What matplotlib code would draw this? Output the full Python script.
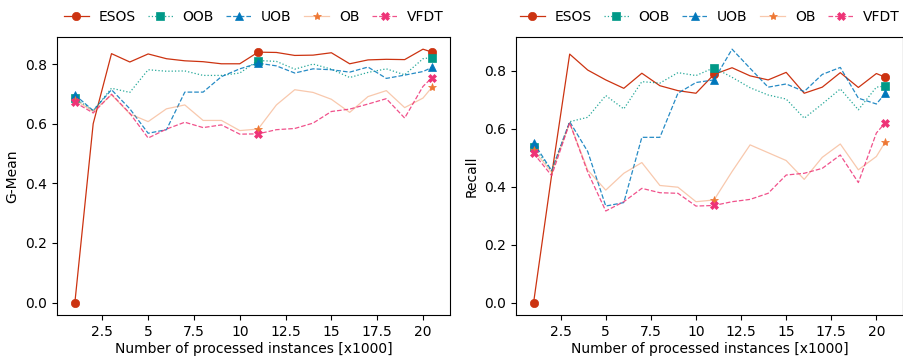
import matplotlib
matplotlib.use("Agg")
import matplotlib.pyplot as plt
from matplotlib.ticker import FormatStrFormatter

# processed instances, in thousands
instances = [1, 2, 3, 4, 5, 6, 7, 8, 9, 10, 11, 12, 13, 14, 15, 16, 17, 18, 19, 20, 20.5]

methods = ["ESOS", "OOB", "UOB", "OB", "VFDT"]

gmean_esos = [0.0, 0.60, 0.835, 0.807, 0.834, 0.818, 0.811, 0.808, 0.801, 0.801, 0.840,
              0.839, 0.829, 0.830, 0.838, 0.801, 0.814, 0.816, 0.815, 0.850, 0.840]
gmean_oob = [0.686, 0.644, 0.719, 0.705, 0.781, 0.776, 0.777, 0.762, 0.762, 0.770, 0.812,
             0.809, 0.783, 0.800, 0.783, 0.755, 0.772, 0.784, 0.764, 0.818, 0.822]
gmean_uob = [0.697, 0.644, 0.714, 0.650, 0.568, 0.580, 0.706, 0.706, 0.758, 0.784, 0.803,
             0.794, 0.770, 0.784, 0.781, 0.773, 0.790, 0.752, 0.763, 0.775, 0.789]
gmean_ob = [0.680, 0.641, 0.697, 0.633, 0.607, 0.650, 0.663, 0.611, 0.611, 0.577, 0.582,
            0.663, 0.714, 0.705, 0.682, 0.638, 0.691, 0.711, 0.654, 0.686, 0.723]
gmean_vfdt = [0.672, 0.636, 0.699, 0.635, 0.552, 0.582, 0.605, 0.587, 0.596, 0.565, 0.566,
              0.580, 0.584, 0.602, 0.641, 0.649, 0.666, 0.684, 0.619, 0.725, 0.755]

recall_esos = [0.0, 0.44, 0.857, 0.802, 0.768, 0.739, 0.791, 0.748, 0.731, 0.722, 0.787,
               0.810, 0.782, 0.768, 0.794, 0.722, 0.743, 0.793, 0.742, 0.790, 0.777]
recall_oob = [0.538, 0.455, 0.624, 0.639, 0.714, 0.668, 0.762, 0.757, 0.793, 0.783, 0.810,
              0.777, 0.741, 0.716, 0.702, 0.636, 0.685, 0.737, 0.665, 0.743, 0.747]
recall_uob = [0.552, 0.455, 0.624, 0.521, 0.333, 0.345, 0.570, 0.570, 0.722, 0.759, 0.768,
              0.874, 0.808, 0.743, 0.754, 0.728, 0.787, 0.811, 0.705, 0.685, 0.722]
recall_ob = [0.525, 0.450, 0.620, 0.457, 0.388, 0.446, 0.483, 0.404, 0.398, 0.348, 0.354,
             0.452, 0.544, 0.517, 0.490, 0.425, 0.501, 0.547, 0.458, 0.504, 0.555]
recall_vfdt = [0.515, 0.438, 0.620, 0.450, 0.316, 0.348, 0.394, 0.379, 0.377, 0.333, 0.335,
               0.348, 0.356, 0.377, 0.440, 0.446, 0.463, 0.509, 0.414, 0.585, 0.621]

gmean = [gmean_esos, gmean_oob, gmean_uob, gmean_ob, gmean_vfdt]
recall = [recall_esos, recall_oob, recall_uob, recall_ob, recall_vfdt]

colors = ["#cc3311", "#009988", "#0077bb", "#ee7733", "#ee3377"]
line_alpha = [1.0, 0.85, 0.85, 0.4, 0.85]
styles = ["-", ":", "--", "-", "--"]
markers = ["o", "s", "^", "*", "X"]
marker_idx = [0, 10, 20]


def draw_panel(ax, series, ylabel):
    for name, ys, c, a, ls, m in zip(methods, series, colors, line_alpha, styles, markers):
        rgba = matplotlib.colors.to_rgba(c, a)
        ax.plot(instances, ys, color=rgba, linestyle=ls, linewidth=0.9,
                marker=m, markersize=6, markevery=marker_idx,
                markerfacecolor=c, markeredgecolor=c, markeredgewidth=0.5, label=name)
    ax.set_xlabel("Number of processed instances [x1000]", fontsize=10, labelpad=2)
    ax.set_ylabel(ylabel, fontsize=10)
    ax.xaxis.set_major_formatter(FormatStrFormatter("%g"))
    ax.tick_params(labelsize=10)
    ax.legend(loc="lower center", bbox_to_anchor=(0.5, 1.0), ncol=5, frameon=False,
              fontsize=10, handlelength=1.8, handletextpad=0.7, columnspacing=0.9,
              borderaxespad=0.5)


fig = plt.figure(figsize=(9.04, 3.58), dpi=100)
ax1 = fig.add_axes([57 / 904, 42.7 / 358, 393 / 904, 278.8 / 358])
ax2 = fig.add_axes([516 / 904, 42.7 / 358, 387 / 904, 278.8 / 358])

draw_panel(ax1, gmean, "G-Mean")
draw_panel(ax2, recall, "Recall")

fig.savefig("out.png", dpi=100)
